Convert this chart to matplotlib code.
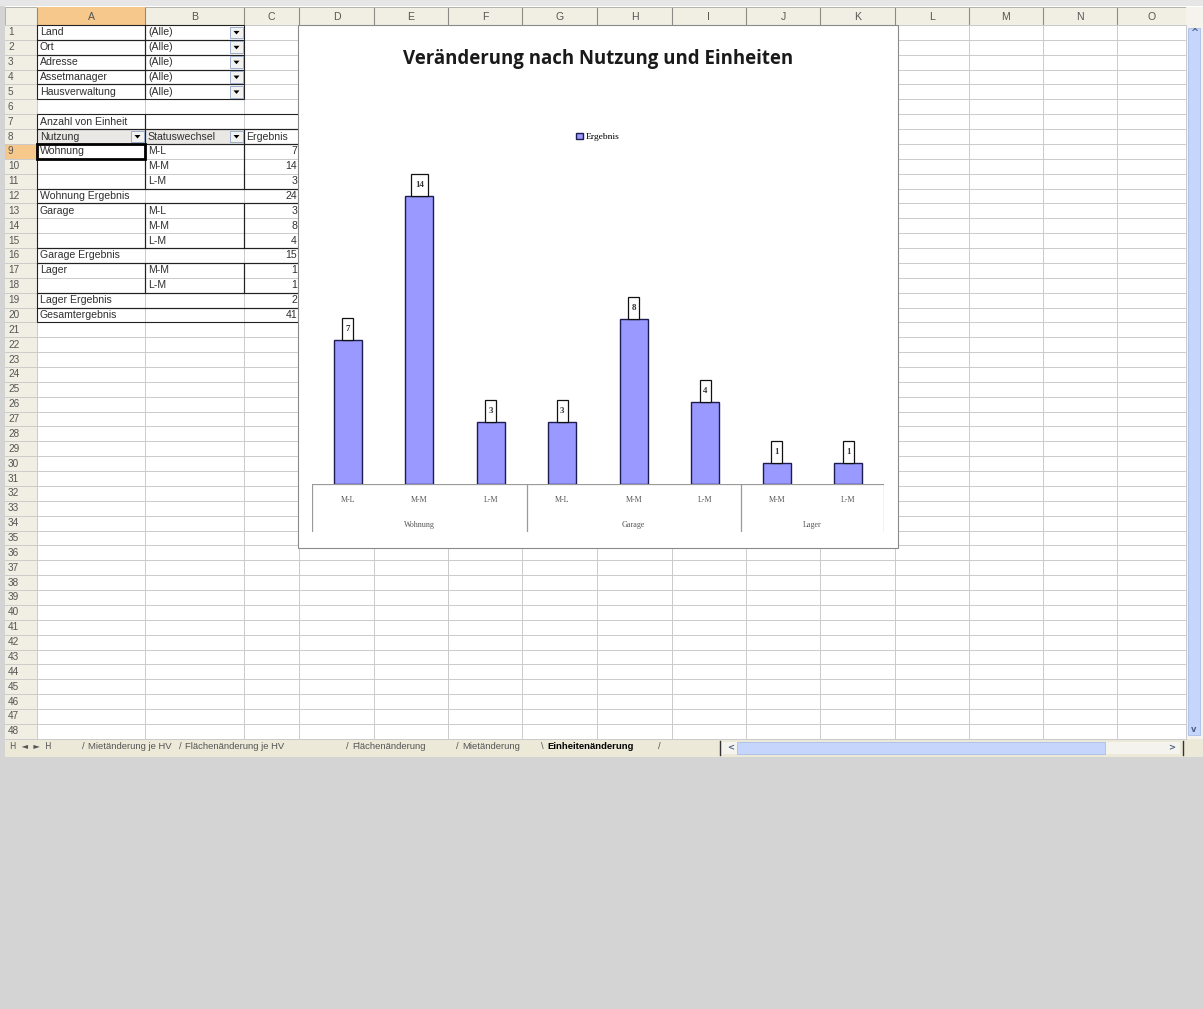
import matplotlib.pyplot as plt
from matplotlib.patches import Rectangle, Polygon

# pivot table content
filter_fields = ['Land', 'Ort', 'Adresse', 'Assetmanager', 'Hausverwaltung']
filter_values = ['(Alle)', '(Alle)', '(Alle)', '(Alle)', '(Alle)']
groups = ['Wohnung', 'Garage', 'Lager']
status = [['M-L', 'M-M', 'L-M'], ['M-L', 'M-M', 'L-M'], ['M-M', 'L-M']]
counts = [[7, 14, 3], [3, 8, 4], [1, 1]]
col_letters = list('ABCDEFGHIJKLMNO')
sheet_tabs = ['Mietänderung je HV', 'Flächenänderung je HV', 'Flächenänderung',
              'Mietänderung', 'Einheitenänderung']
chart_title = 'Veränderung nach Nutzung und Einheiten'
series_name = 'Ergebnis'

# flat series for the chart
cat_labels = [s for st in status for s in st]
values = [v for vs in counts for v in vs]

W, H = 1203, 1009
fig = plt.figure(figsize=(W / 100, H / 100), dpi=100)
fig.patch.set_facecolor('#d4d4d4')
bg = fig.add_axes([0, 0, 1, 1])
bg.set_xlim(0, W)
bg.set_ylim(H, 0)
bg.axis('off')

# sheet geometry (pixels)
col_edges = [5, 37, 145, 244, 299, 374, 448, 522, 597, 672, 746, 820, 895, 969, 1043, 1117, 1186]
top0, rh, nrows = 25, 14.87, 48
def ry(r):
    return top0 + (r - 1) * rh
def rc(r):
    return top0 + (r - 0.5) * rh

FONT = 'Liberation Sans'
fs = 7.6
txtc = '#303030'

bg.add_patch(Rectangle((0, 0), W, 6, fc='#e6e6e6', ec='none'))
bg.add_patch(Rectangle((5, 6), 1198, ry(nrows + 1) - 6, fc='white', ec='none'))

# column / row headers
bg.add_patch(Rectangle((5, 7), 1181, top0 - 7, fc='#f1efe3', ec='#a8a8a0', lw=0.6))
bg.add_patch(Rectangle((5, top0), 32, nrows * rh, fc='#f1efe3', ec='none'))
bg.add_patch(Rectangle((col_edges[1], 7), col_edges[2] - col_edges[1], top0 - 7, fc='#f7c88c', ec='none'))
bg.add_patch(Rectangle((5, ry(9)), 32, rh, fc='#f7c88c', ec='none'))
for i, letter in enumerate(col_letters):
    bg.text((col_edges[i + 1] + col_edges[i + 2]) / 2, 16.5, letter, ha='center', va='center',
            fontsize=fs, family=FONT, color='#555555')
    bg.plot([col_edges[i + 1]] * 2, [8, top0], color='#8c8c86', lw=0.8)
for r in range(1, nrows + 1):
    bg.text(8, rc(r), str(r), ha='left', va='center', fontsize=7.2, family=FONT, color='#555555')

# grid lines
for r in range(nrows + 1):
    y = top0 + r * rh
    bg.plot([5, 1186], [y, y], color='#cbcbcb', lw=0.7)
for x in col_edges[1:]:
    bg.plot([x, x], [top0, ry(nrows + 1)], color='#cbcbcb', lw=0.7)

xA, xB, xC, xD = col_edges[1], col_edges[2], col_edges[3], col_edges[4]
edge = '#222222'

def cell_box(x0, x1, r0, r1, lw=0.8):
    bg.add_patch(Rectangle((x0, ry(r0)), x1 - x0, ry(r1 + 1) - ry(r0), fc='none', ec=edge, lw=lw, zorder=3))

def dropdown(xr, r):
    bg.add_patch(Rectangle((xr - 14, ry(r) + 1.5), 13, rh - 3, fc='#f2f2f0', ec='#8ea4c8', lw=0.6, zorder=4))
    xc, yc = xr - 7.5, rc(r)
    bg.add_patch(Polygon([[xc - 3, yc - 1.5], [xc + 3, yc - 1.5], [xc, yc + 2]], closed=True,
                         fc='black', ec='none', zorder=5))

# page fields
for i, (f, v) in enumerate(zip(filter_fields, filter_values)):
    r = i + 1
    cell_box(xA, xB, r, r)
    cell_box(xB, xC, r, r)
    bg.text(xA + 3, rc(r), f, va='center', fontsize=fs, family=FONT, color=txtc, zorder=6)
    bg.text(xB + 3, rc(r), v, va='center', fontsize=fs, family=FONT, color=txtc, zorder=6)
    dropdown(xC, r)

# data header
cell_box(xA, xB, 7, 7)
cell_box(xB, xD, 7, 7)
bg.text(xA + 3, rc(7), 'Anzahl von Einheit', va='center', fontsize=fs, family=FONT, color=txtc)
bg.add_patch(Rectangle((xA, ry(8)), xC - xA, rh, fc='#e9e8e4', ec='none', zorder=2))
cell_box(xA, xB, 8, 8)
cell_box(xB, xC, 8, 8)
cell_box(xC, xD, 8, 8)
bg.text(xA + 3, rc(8), 'Nutzung', va='center', fontsize=fs, family=FONT, color=txtc, zorder=6)
bg.text(xB + 2, rc(8), 'Statuswechsel', va='center', fontsize=fs, family=FONT, color=txtc, zorder=6)
bg.text(xC + 2, rc(8), 'Ergebnis', va='center', fontsize=fs, family=FONT, color=txtc, zorder=6)
dropdown(xB, 8)
dropdown(xC, 8)

# pivot body
r = 9
for g, st, vs in zip(groups, status, counts):
    n = len(st)
    cell_box(xA, xB, r, r + n - 1)
    cell_box(xB, xC, r, r + n - 1)
    cell_box(xC, xD, r, r + n - 1)
    bg.text(xA + 3, rc(r), g, va='center', fontsize=fs, family=FONT, color=txtc, zorder=6)
    for k, (s, v) in enumerate(zip(st, vs)):
        bg.text(xB + 3, rc(r + k), s, va='center', fontsize=fs, family=FONT, color=txtc, zorder=6)
        bg.text(xD - 2, rc(r + k), str(v), va='center', ha='right', fontsize=fs, family=FONT, color=txtc, zorder=6)
    r += n
    cell_box(xA, xD, r, r)
    bg.text(xA + 3, rc(r), g + ' Ergebnis', va='center', fontsize=fs, family=FONT, color=txtc, zorder=6)
    bg.text(xD - 2, rc(r), str(sum(vs)), va='center', ha='right', fontsize=fs, family=FONT, color=txtc, zorder=6)
    r += 1
cell_box(xA, xD, r, r)
bg.text(xA + 3, rc(r), 'Gesamtergebnis', va='center', fontsize=fs, family=FONT, color=txtc, zorder=6)
bg.text(xD - 2, rc(r), str(sum(values)), va='center', ha='right', fontsize=fs, family=FONT, color=txtc, zorder=6)

# active cell A9
bg.add_patch(Rectangle((xA, ry(9)), xB - xA, rh, fc='none', ec='black', lw=2, zorder=7))

# vertical scroll bar
bg.add_patch(Rectangle((1186, 7), 17, ry(nrows + 1) - 7, fc='#f4f3ee', ec='none'))
bg.add_patch(Rectangle((1188, 28), 12, ry(nrows + 1) - 32, fc='#c5d5fb', ec='#a9bde8', lw=0.6))
bg.text(1194, 33, '^', ha='center', va='center', fontsize=7, color='#4d6185', fontweight='bold')
bg.text(1194, 729, 'v', ha='center', va='center', fontsize=6, color='#4d6185', fontweight='bold')

# sheet tab bar
ytab = ry(nrows + 1)
tfs = 6.8
bg.add_patch(Rectangle((5, ytab), 1198, 18, fc='#ece9d8', ec='none'))
bg.text(10, ytab + 8, 'H  ◄  ►  H', va='center', fontsize=6, family='DejaVu Sans', color='#555555')
tab_x = [88, 185, 352, 462, 547]
for tx, name in zip(tab_x, sheet_tabs):
    bold = name == sheet_tabs[-1]
    bg.text(tx - 3, ytab + 8, '\\' if bold else '/', va='center', ha='right', fontsize=tfs,
            family=FONT, color='#555555')
    bg.text(tx, ytab + 8, name, va='center', fontsize=tfs, family=FONT,
            color='black' if bold else '#555555', fontweight='bold' if bold else 'normal')
bg.text(658, ytab + 8, '/', va='center', fontsize=tfs, family=FONT, color='#555555')
bg.add_patch(Rectangle((722, ytab + 3), 458, 12, fc='#f4f3ee', ec='none'))
bg.add_patch(Rectangle((737, ytab + 3), 368, 12, fc='#c5d5fb', ec='#a9bde8', lw=0.6))
bg.text(727, ytab + 9, '<', va='center', fontsize=6, color='#4d6185', fontweight='bold')
bg.text(1168, ytab + 9, '>', va='center', fontsize=6, color='#4d6185', fontweight='bold')
bg.plot([720, 720], [ytab + 2, ytab + 16], color='#333333', lw=1)
bg.plot([1183, 1183], [ytab + 2, ytab + 16], color='#333333', lw=1)

# chart object
bg.add_patch(Rectangle((298, 25), 600, 523, fc='white', ec='#8a8a8a', lw=0.8, zorder=10))
bg.text(598, 59, chart_title, ha='center', va='center', fontsize=13.4, fontweight='bold',
        family='Open Sans', color='#1a1a1a', zorder=11)

px_left, px_right, px_base = 312, 884, 484
unit = 20.6
ymax = 16
ax = fig.add_axes([px_left / W, (H - px_base) / H, (px_right - px_left) / W, ymax * unit / H])
ax.set_xlim(-0.5, len(values) - 0.5)
ax.set_ylim(0, ymax)
ax.axis('off')
xs = list(range(len(values)))
bars = ax.bar(xs, values, width=0.39, color='#9999ff', edgecolor='#1c1c50', linewidth=1.0, label=series_name)
box_h = 22 / unit
for x, v in zip(xs, values):
    lab = str(v)
    bw = 0.07 + 0.085 * len(lab)
    ax.add_patch(Rectangle((x - bw / 2, v), bw, box_h, fc='white', ec='#111111', lw=0.9, clip_on=False))
    ax.text(x, v + box_h / 2, lab, ha='center', va='center', fontsize=6.5, family='Liberation Serif',
            fontweight='bold', color='#333333', clip_on=False)

# category axis with groups
cax = fig.add_axes([px_left / W, (H - 532) / H, (px_right - px_left) / W, 48 / H])
cax.set_xlim(-0.5, len(values) - 0.5)
cax.set_ylim(0, 1)
cax.axis('off')
cax.plot([-0.5, len(values) - 0.5], [1, 1], color='#9a9a9a', lw=0.9)
for x, lab in zip(xs, cat_labels):
    cax.text(x, 0.67, lab, ha='center', va='center', fontsize=5.8, family='Liberation Serif', color='#555555')
start = 0
cax.plot([-0.5, -0.5], [0, 1], color='#9a9a9a', lw=0.9)
for g, st in zip(groups, status):
    end = start + len(st)
    cax.plot([end - 0.5, end - 0.5], [0, 1], color='#9a9a9a', lw=0.9)
    cax.text((start + end - 1) / 2, 0.15, g, ha='center', va='center', fontsize=5.8,
             family='Liberation Serif', color='#555555')
    start = end

fig.legend(handles=[bars], labels=[series_name], loc='center', bbox_to_anchor=(598 / W, 1 - 137 / H),
           frameon=False, handlelength=0.7, handleheight=0.7, handletextpad=0.3,
           prop={'family': 'Liberation Serif', 'size': 6.8})

fig.savefig('out.png', dpi=100, facecolor=fig.get_facecolor())
